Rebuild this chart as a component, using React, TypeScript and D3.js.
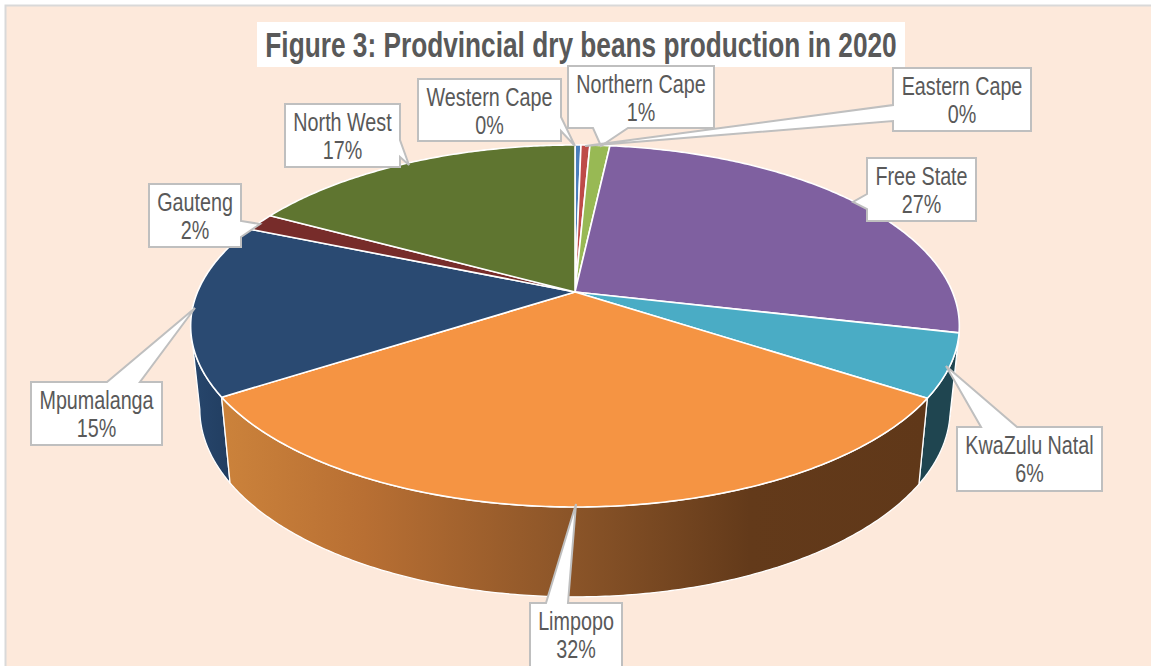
import React from "react";
import * as d3 from "d3";

const W = 1151, H = 666;
const names = ["Western Cape","Northern Cape","Eastern Cape","Free State","KwaZulu Natal","Limpopo","Mpumalanga","Gauteng","North West"];
const shares = [0.3,0.45,1.0,26.85,5.6,31.7,15.4,1.6,17.1];
const pctLabels = ["0%","1%","0%","27%","6%","32%","15%","2%","17%"];
const topColors = ["#4a7ebb","#be4b48","#98b954","#7f60a0","#4aacc5","#f59443","#2a4a72","#772c2a","#5f7530"];
const TITLE = "Figure 3: Prodvincial dry beans production in 2020";

// callout layout: [x0,y0,x1,y1], side of the tail, base1, tip, base2
type Pt = [number, number];
const callouts: { box: number[]; side: string; tail: Pt[] }[] = [
  { box:[418,79,561,141], side:"right", tail:[[561,117],[575,146],[561,131]] },
  { box:[568,66,714,128], side:"bottom", tail:[[628,128],[601,146],[593,128]] },
  { box:[893,68,1031,131], side:"left", tail:[[893,121],[585,146],[893,105]] },
  { box:[867,158,976,221], side:"left", tail:[[867,209],[853,202],[867,194]] },
  { box:[957,427,1102,491], side:"top", tail:[[981,427],[946,366],[1017,427]] },
  { box:[530,603,622,672], side:"top", tail:[[546,603],[576,504],[568,603]] },
  { box:[31,382,162,445], side:"top", tail:[[107,382],[195,308],[140,382]] },
  { box:[149,184,241,247], side:"right", tail:[[241,221],[260,224],[241,237]] },
  { box:[285,104,400,167], side:"right", tail:[[400,140],[409,165],[400,157]] },
];

// Perspective rings of the cylinder
const cx = 575;
const ringTop = { A:377.5, B:174.6, a:0.1878, y:292 };
const ringBottom = { A:368.5, B:181, a:0.1878, y:374 };
type Ring = typeof ringTop;
const project = (r: Ring, t: number, k = 1): Pt => {
  const u = Math.sin(t) * k, v = Math.cos(t) * k, d = 1 + r.a * v;
  return [cx + r.A * u / d, r.y - r.B * v / d];
};

const pieGen = d3.pie<number>().sort(null).startAngle(0).endAngle(2 * Math.PI);
const arcs = pieGen(shares);
const line = d3.line();
const sample = (a: number, b: number) => {
  const n = Math.max(2, Math.ceil(Math.abs(b - a) / 0.01));
  return d3.range(n + 1).map(i => a + (b - a) * i / n);
};
const topPath = (a: number, b: number) =>
  line([project(ringTop, 0, 0), ...sample(a, b).map(t => project(ringTop, t))])! + "Z";
const FRONT0 = Math.PI / 2 + Math.asin(ringTop.a), FRONT1 = 2 * Math.PI - FRONT0;
const sidePath = (a: number, b: number) => {
  const s = sample(a, b);
  return line([...s.map(t => project(ringTop, t)), ...s.slice().reverse().map(t => project(ringBottom, t))])! + "Z";
};
const calloutPath = (c: typeof callouts[number]) => {
  const [x0,y0,x1,y1] = c.box;
  const TL: Pt=[x0,y0], TR: Pt=[x1,y0], BR: Pt=[x1,y1], BL: Pt=[x0,y1];
  const pts: Pt[] = c.side==="top" ? [TL,...c.tail,TR,BR,BL]
    : c.side==="right" ? [TL,TR,...c.tail,BR,BL]
    : c.side==="bottom" ? [TL,TR,BR,...c.tail,BL]
    : [TL,TR,BR,BL,...c.tail];
  return line(pts)! + "Z";
};
const sideFill = (i: number) => i === 5 ? "url(#limpopoSide)" : i === 4 ? "#1f4550" : i === 6 ? "url(#mpuSide)" : "#5e4a7c";
const drawOrder = [3, 6, 4, 5];
const FONT = "'Liberation Sans', Arial, sans-serif";

export default function App() {
  return (
    <svg width={W} height={H} viewBox={`0 0 ${W} ${H}`} style={{position:"absolute",left:0,top:0,display:"block",background:"#fff"}}>
      <defs>
        <linearGradient id="limpopoSide" gradientUnits="userSpaceOnUse" x1={225} x2={925} y1={0} y2={0}>
          <stop offset="0" stopColor="#cb823b"/>
          <stop offset="0.2" stopColor="#b86f33"/>
          <stop offset="0.5" stopColor="#8a5428"/>
          <stop offset="0.75" stopColor="#633a1a"/>
          <stop offset="1" stopColor="#603819"/>
        </linearGradient>
        <linearGradient id="mpuSide" gradientUnits="userSpaceOnUse" x1={192} x2={232} y1={0} y2={0}>
          <stop offset="0" stopColor="#27466c"/>
          <stop offset="1" stopColor="#213d60"/>
        </linearGradient>
      </defs>
      <rect x={5.5} y={5.5} width={W} height={H} fill="#fde9db" stroke="#d9d9d9" strokeWidth={2}/>
      {drawOrder.map(i => {
        const a = Math.max(arcs[i].startAngle, FRONT0), b = Math.min(arcs[i].endAngle, FRONT1);
        return b > a ? <path key={i} d={sidePath(a, b)} fill={sideFill(i)} stroke="#fff" strokeWidth={1.3} strokeLinejoin="round"/> : null;
      })}
      {arcs.map((d, i) => (
        <path key={names[i]} d={topPath(d.startAngle, d.endAngle)} fill={topColors[i]} stroke="#fff" strokeWidth={1.6} strokeLinejoin="round"/>
      ))}
      <rect x={257} y={22} width={648} height={45} fill="#fff"/>
      <text transform="translate(581,56.5) scale(0.75,1)" textAnchor="middle" fontFamily={FONT} fontWeight={700} fontSize={35} fill="#595959">{TITLE}</text>
      {callouts.map((c, i) => {
        const mx = (c.box[0] + c.box[2]) / 2;
        return (
          <g key={names[i]}>
            <path d={calloutPath(c)} fill="#fff" stroke="#bfbfbf" strokeWidth={2} strokeLinejoin="miter"/>
            <text transform={`translate(${mx},${c.box[1] + 27}) scale(0.79,1)`} textAnchor="middle" fontFamily={FONT} fontSize={25} fill="#595959">{names[i]}</text>
            <text transform={`translate(${mx},${c.box[1] + 55}) scale(0.79,1)`} textAnchor="middle" fontFamily={FONT} fontSize={25} fill="#595959">{pctLabels[i]}</text>
          </g>
        );
      })}
    </svg>
  );
}
